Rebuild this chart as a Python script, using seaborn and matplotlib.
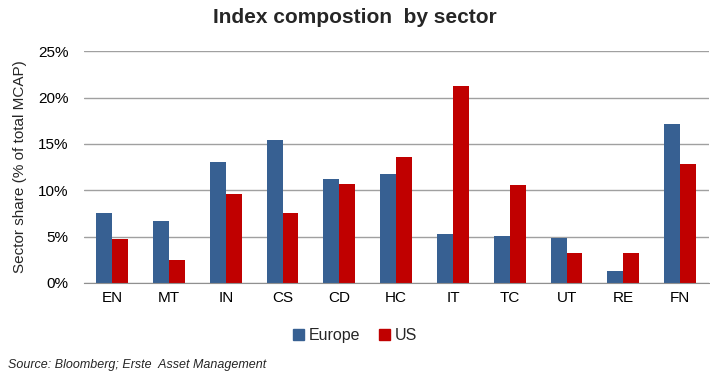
import pandas as pd
import matplotlib.pyplot as plt
import seaborn as sns
from matplotlib.ticker import PercentFormatter

sectors = ['EN', 'MT', 'IN', 'CS', 'CD', 'HC', 'IT', 'TC', 'UT', 'RE', 'FN']
europe = [7.5, 6.7, 13.1, 15.45, 11.2, 11.8, 5.3, 5.1, 4.9, 1.3, 17.2]
us = [4.7, 2.5, 9.6, 7.6, 10.7, 13.6, 21.25, 10.6, 3.2, 3.2, 12.85]
regions = ['Europe', 'US']
colors = ['#376092', '#C00000']

df = pd.DataFrame({'Sector': sectors * 2,
                   'Region': ['Europe'] * len(sectors) + ['US'] * len(sectors),
                   'Share': europe + us})

sns.set_style('white')
plt.rcParams['font.family'] = ['Liberation Sans', 'DejaVu Sans']

fig = plt.figure(figsize=(7.1, 3.85), dpi=100)
ax = fig.add_axes([0.118, 0.265, 0.880, 0.602])

sns.barplot(data=df, x='Sector', y='Share', hue='Region', hue_order=regions,
            palette=colors, width=0.56, gap=0, saturation=1, linewidth=0,
            ax=ax, legend=False)

ax.set_ylim(0, 25)
ax.set_xlim(-0.5, len(sectors) - 0.5)
ax.set_yticks([0, 5, 10, 15, 20, 25])
ax.yaxis.set_major_formatter(PercentFormatter(decimals=0))
ax.grid(axis='y', color='#a0a0a0', linewidth=1)
ax.set_axisbelow(True)
for s in ['top', 'right', 'left']:
    ax.spines[s].set_visible(False)
ax.spines['bottom'].set_color('#909090')
ax.tick_params(axis='both', length=0, labelsize=11, colors='#000000')
ax.tick_params(axis='y', pad=11)
ax.tick_params(axis='x', pad=6)
ax.set_xlabel('')
ax.set_ylabel('Sector share (% of total MCAP)', fontsize=11, labelpad=8)

fig.suptitle('Index compostion  by sector', x=0.5, y=0.98, fontsize=15, fontweight='bold')

handles = [plt.Rectangle((0, 0), 1, 1, color=c) for c in colors]
fig.legend(handles, regions, loc='center', bbox_to_anchor=(0.5, 0.128), ncol=2,
           frameon=False, fontsize=11.5, handlelength=0.7, handleheight=0.7,
           handletextpad=0.3, columnspacing=1.2)

fig.text(0.011, 0.045, 'Source: Bloomberg; Erste  Asset Management', fontsize=9, style='italic')

fig.savefig('out.png', dpi=100)
